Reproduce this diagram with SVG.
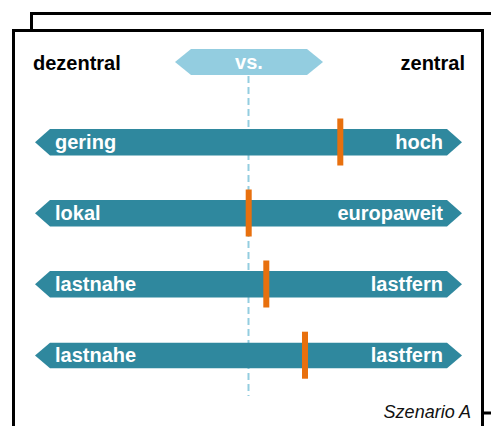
<svg xmlns="http://www.w3.org/2000/svg" width="491" height="426" viewBox="0 0 491 426">
<style>
.frame{fill:#fff;stroke:#000;stroke-width:3}
.bar{fill:#2f889e}
.mark{fill:#e8700e}
.lbl{font-family:"Liberation Sans",Arial,sans-serif;font-weight:bold;font-size:20px;fill:#fff}
.head{font-family:"Liberation Sans",Arial,sans-serif;font-weight:bold;font-size:20px;fill:#000}
</style>
<g id="frames">
<polyline class="frame" points="31.5,32 31.5,13.5 495,13.5" fill="none"/>
<rect class="frame" x="13.5" y="30.5" width="469" height="410"/>
<line x1="482" y1="413" x2="491" y2="413" stroke="#000" stroke-width="3"/>
</g>
<g id="header">
<text class="head" x="33" y="70">dezentral</text>
<text class="head" x="465" y="70" text-anchor="end">zentral</text>
</g>
<g id="vs">
<polygon points="175,62 191,49 307,49 323,62 307,75 191,75" fill="#93cde0"/>
<text class="lbl" x="249" y="69" text-anchor="middle" font-size="18">vs.</text>
</g>
<g id="connectors">
<line x1="248.5" y1="76" x2="248.5" y2="396" stroke="#93cde0" stroke-width="2" stroke-dasharray="7,4"/>
</g>
<g id="row1">
<polygon class="bar" points="35,142.3 50,129 447,129 462,142.3 447,155.6 50,155.6"/>
<text class="lbl" x="55" y="149">gering</text>
<text class="lbl" x="443" y="149" text-anchor="end">hoch</text>
<rect class="mark" x="337.3" y="118.5" width="6" height="47"/>
</g>
<g id="row2">
<polygon class="bar" points="35,213.3 50,200 447,200 462,213.3 447,226.6 50,226.6"/>
<text class="lbl" x="55" y="220">lokal</text>
<text class="lbl" x="443" y="220" text-anchor="end">europaweit</text>
<rect class="mark" x="245.7" y="189.5" width="6" height="47"/>
</g>
<g id="row3">
<polygon class="bar" points="35,284.3 50,271 447,271 462,284.3 447,297.6 50,297.6"/>
<text class="lbl" x="55" y="291">lastnahe</text>
<text class="lbl" x="443" y="291" text-anchor="end">lastfern</text>
<rect class="mark" x="263.3" y="260.5" width="6" height="47"/>
</g>
<g id="row4">
<polygon class="bar" points="35,355.5 50,342.7 447,342.7 462,355.5 447,368.3 50,368.3"/>
<text class="lbl" x="55" y="362">lastnahe</text>
<text class="lbl" x="443" y="362" text-anchor="end">lastfern</text>
<rect class="mark" x="302" y="331.7" width="6" height="47"/>
</g>
<text x="471" y="418" text-anchor="end" font-family="'Liberation Sans',Arial,sans-serif" font-style="italic" font-size="18" fill="#111">Szenario A</text>
</svg>
